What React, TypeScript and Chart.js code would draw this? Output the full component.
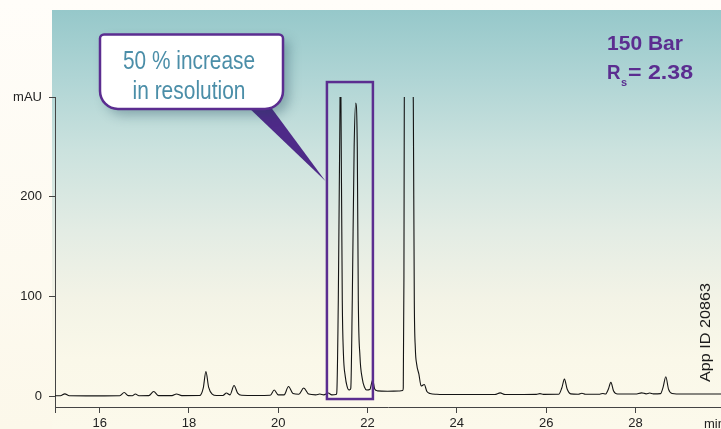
import React, { useEffect, useRef } from "react";
import { Chart, registerables } from "chart.js";

Chart.register(...registerables);

// Retention time (min) of each trace point
const times = [
  15.0, 15.12, 15.22, 15.32, 15.7, 16.1, 16.45, 16.55, 16.64, 16.73, 16.8, 16.88,
  17.1, 17.21, 17.32, 17.62, 17.72, 17.84, 18.24, 18.32, 18.38, 18.44, 18.52, 18.62,
  18.76, 18.84, 18.92, 19.01, 19.09, 19.18, 19.5, 19.82, 19.91, 20.0, 20.13, 20.23,
  20.33, 20.46, 20.57, 20.68, 20.84, 20.93, 21.02, 21.12, 21.2, 21.29, 21.31, 21.345,
  21.383, 21.394, 21.405, 21.434, 21.46, 21.5, 21.54, 21.585, 21.61, 21.625, 21.658, 21.7,
  21.735, 21.77, 21.793, 21.83, 21.88, 21.93, 21.98, 22.05, 22.115, 22.16, 22.22, 22.45,
  22.7, 22.79, 22.8, 22.815, 22.823, 22.87, 22.93, 22.99, 23.025, 23.047, 23.07, 23.1,
  23.15, 23.2, 23.27, 23.33, 23.4, 23.55, 23.9, 24.4, 24.85, 24.97, 25.08, 25.5,
  25.78, 25.86, 25.94, 26.28, 26.35, 26.41, 26.47, 26.55, 26.72, 26.8, 26.88, 27.2,
  27.27, 27.33, 27.39, 27.45, 27.51, 27.6, 28.0, 28.14, 28.24, 28.32, 28.4, 28.56,
  28.62, 28.68, 28.74, 28.82, 29.05, 29.4, 29.92,
];

// Absorbance (mAU) at each of those times
const absorbance = [
  0.3, 0.3, 2.2, 0.3, 0.2, 0.2, 0.3, 3.5, 0.4, 0.3, 2.0, 0.3,
  0.4, 4.5, 0.4, 0.4, 2.0, 0.4, 0.5, 8, 24.5, 9, 2, 0.6,
  0.6, 3, 1.2, 10.5, 3, 0.8, 0.6, 0.8, 6, 1.2, 1.2, 9.5,
  2.5, 1.8, 8, 2, 1.2, 2, 1.2, 3, 1.2, 1.5, 3, 96,
  294, 360, 294, 96, 42, 20, 10, 6, 6.5, 8, 96, 250,
  294, 250, 96, 40, 18, 9, 6, 6.5, 16, 7, 5.2, 4.8,
  5, 5.5, 8, 120, 294, 430, 460, 430, 294, 96, 48, 32,
  22, 10, 11.5, 4.5, 2.5, 1.8, 1.5, 1.5, 1.6, 3.2, 1.6, 1.6,
  1.7, 2.4, 1.7, 1.8, 8, 17, 7, 2.2, 1.8, 2.8, 1.8, 1.8,
  2.6, 2, 6.5, 13.7, 5, 2, 2, 3.2, 2.2, 3, 2.2, 2.4,
  9, 19.3, 7, 2.6, 2, 2, 2,
];

const xTickValues = [15, 16, 18, 20, 22, 24, 26, 28];
const yTickValues = [0, 100, 200, 300];
const yTopLabel = "mAU";
const xUnitLabel = "min";
const calloutLines = ["50 % increase", "in resolution"];
const pressureLabel = "150 Bar";
const resolutionSymbol = "R";
const resolutionSub = "s";
const resolutionValue = "= 2.38";
const appIdLabel = "App ID 20863";
const highlightTimes = [21.09, 22.12];
const highlightLevels = [-3, 315];

const PURPLE = "#5b2d90";
const TICK_FONT = '"Liberation Sans", Arial, Helvetica, sans-serif';

function fitText(
  ctx: CanvasRenderingContext2D,
  text: string,
  left: number,
  baseline: number,
  width: number,
  font: string
) {
  ctx.font = font;
  ctx.textAlign = "left";
  ctx.textBaseline = "alphabetic";
  const w = ctx.measureText(text).width || 1;
  ctx.save();
  ctx.translate(left, baseline);
  ctx.scale(width / w, 1);
  ctx.fillText(text, 0, 0);
  ctx.restore();
}

const backgroundPlugin = {
  id: "bg",
  beforeDraw(chart: any) {
    const ctx: CanvasRenderingContext2D = chart.ctx;
    const W = chart.width;
    const H = chart.height;
    ctx.save();
    const outer = ctx.createLinearGradient(0, 0, 0, H);
    outer.addColorStop(0, "#fffdf9");
    outer.addColorStop(1, "#fcf8ea");
    ctx.fillStyle = outer;
    ctx.fillRect(0, 0, W, H);
    const panel = ctx.createLinearGradient(0, 10, 0, H);
    panel.addColorStop(0, "#96c8ca");
    panel.addColorStop(0.167, "#b0d5d5");
    panel.addColorStop(0.334, "#cbe2de");
    panel.addColorStop(0.525, "#e3ece4");
    panel.addColorStop(0.69, "#f3f3e6");
    panel.addColorStop(0.835, "#faf8e9");
    panel.addColorStop(1, "#fcf9eb");
    ctx.fillStyle = panel;
    ctx.fillRect(52, 10, W - 52, H - 10);
    ctx.restore();
  },
};

const overlayPlugin = {
  id: "overlay",
  afterDraw(chart: any) {
    const ctx: CanvasRenderingContext2D = chart.ctx;
    const xs = chart.scales.x;
    const ys = chart.scales.y;
    ctx.save();

    // highlight rectangle around the critical pair
    const bx0 = xs.getPixelForValue(highlightTimes[0]);
    const bx1 = xs.getPixelForValue(highlightTimes[1]);
    const by0 = ys.getPixelForValue(highlightLevels[1]);
    const by1 = ys.getPixelForValue(highlightLevels[0]);
    ctx.strokeStyle = PURPLE;
    ctx.lineWidth = 2.5;
    ctx.strokeRect(bx0, by0, bx1 - bx0, by1 - by0);

    // callout tail
    ctx.fillStyle = "#4e2a88";
    ctx.beginPath();
    ctx.moveTo(247, 106);
    ctx.lineTo(270, 106);
    ctx.lineTo(bx0 - 1.5, 181);
    ctx.closePath();
    ctx.fill();

    // callout box with shadow
    const cx = 100, cy = 34.5, cw = 183, ch = 74.5;
    ctx.save();
    ctx.shadowColor = "rgba(30,70,85,0.35)";
    ctx.shadowBlur = 12;
    ctx.shadowOffsetX = 6;
    ctx.shadowOffsetY = 6;
    ctx.beginPath();
    (ctx as any).roundRect(cx, cy, cw, ch, [4, 4, 18, 18]);
    ctx.fillStyle = "#ffffff";
    ctx.fill();
    ctx.restore();
    ctx.beginPath();
    (ctx as any).roundRect(cx, cy, cw, ch, [4, 4, 18, 18]);
    ctx.lineWidth = 2.5;
    ctx.strokeStyle = PURPLE;
    ctx.stroke();

    const calloutFont = '26px "Liberation Sans", Arial, Helvetica, sans-serif';
    ctx.fillStyle = "#4b8ea8";
    fitText(ctx, calloutLines[0], 123, 69, 132, calloutFont);
    fitText(ctx, calloutLines[1], 132.5, 98.5, 113, calloutFont);

    // pressure / resolution labels
    ctx.fillStyle = PURPLE;
    const boldFont = 'bold 21px "Liberation Sans", Arial, Helvetica, sans-serif';
    fitText(ctx, pressureLabel, 607, 50, 76, boldFont);
    fitText(ctx, resolutionSymbol, 607, 79, 13.5, boldFont);
    ctx.font = 'bold 11px "Liberation Sans", Arial, sans-serif';
    ctx.fillText(resolutionSub, 621, 86);
    fitText(ctx, resolutionValue, 628, 79, 65, boldFont);

    // rotated App ID
    ctx.fillStyle = "#1a1a1a";
    ctx.save();
    ctx.translate(709.5, 382);
    ctx.rotate(-Math.PI / 2);
    fitText(ctx, appIdLabel, 0, 0, 99, '15px "Liberation Sans", Arial, sans-serif');
    ctx.restore();

    // x unit label
    ctx.fillStyle = "#222";
    ctx.font = "13px " + TICK_FONT;
    ctx.textAlign = "left";
    ctx.textBaseline = "alphabetic";
    ctx.fillText(xUnitLabel, 704, 428);

    ctx.restore();
  },
};

export default function App() {
  const ref = useRef<HTMLCanvasElement>(null);

  useEffect(() => {
    const canvas = ref.current;
    if (!canvas) return;
    const points = times.map((t, i) => ({ x: t, y: absorbance[i] }));
    const chart = new Chart(canvas, {
      type: "line",
      data: {
        datasets: [
          {
            data: points,
            borderColor: "#141414",
            borderWidth: 1.1,
            pointRadius: 0,
            fill: false,
            cubicInterpolationMode: "monotone",
          } as any,
        ],
      },
      options: {
        responsive: false,
        animation: false,
        devicePixelRatio: 1,
        layout: { padding: { top: 97, left: 0, right: 0, bottom: 0 } },
        plugins: {
          legend: { display: false },
          tooltip: { enabled: false },
        },
        scales: {
          x: {
            type: "linear",
            min: 15,
            max: 29.916,
            afterBuildTicks: (s: any) => {
              s.ticks = xTickValues.map((v) => ({ value: v }));
            },
            afterFit: (s: any) => {
              s.height = 22;
            },
            ticks: {
              autoSkip: false,
              maxRotation: 0,
              padding: 3,
              color: "#222",
              font: { family: TICK_FONT, size: 13 },
              callback: (v: any) => (v === 15 ? "" : String(v)),
            },
            grid: {
              drawOnChartArea: false,
              drawTicks: true,
              tickLength: 6,
              color: "#444",
              lineWidth: 1,
            },
            border: { display: true, color: "#444", width: 1 },
          },
          y: {
            type: "linear",
            min: -11,
            max: 300,
            afterBuildTicks: (s: any) => {
              s.ticks = yTickValues.map((v) => ({ value: v }));
            },
            afterFit: (s: any) => {
              s.width = 55;
            },
            ticks: {
              padding: 7,
              color: "#222",
              font: { family: TICK_FONT, size: 13 },
              callback: (v: any) => (v === 300 ? yTopLabel : String(v)),
            },
            grid: {
              drawOnChartArea: false,
              drawTicks: true,
              tickLength: 6,
              color: "#444",
              lineWidth: 1,
            },
            border: { display: true, color: "#444", width: 1 },
          },
        },
      } as any,
      plugins: [backgroundPlugin, overlayPlugin],
    });
    return () => chart.destroy();
  }, []);

  return (
    <div style={{ position: "absolute", left: 0, top: 0, width: 721, height: 429 }}>
      <canvas ref={ref} width={721} height={429} style={{ display: "block", width: 721, height: 429 }} />
    </div>
  );
}
